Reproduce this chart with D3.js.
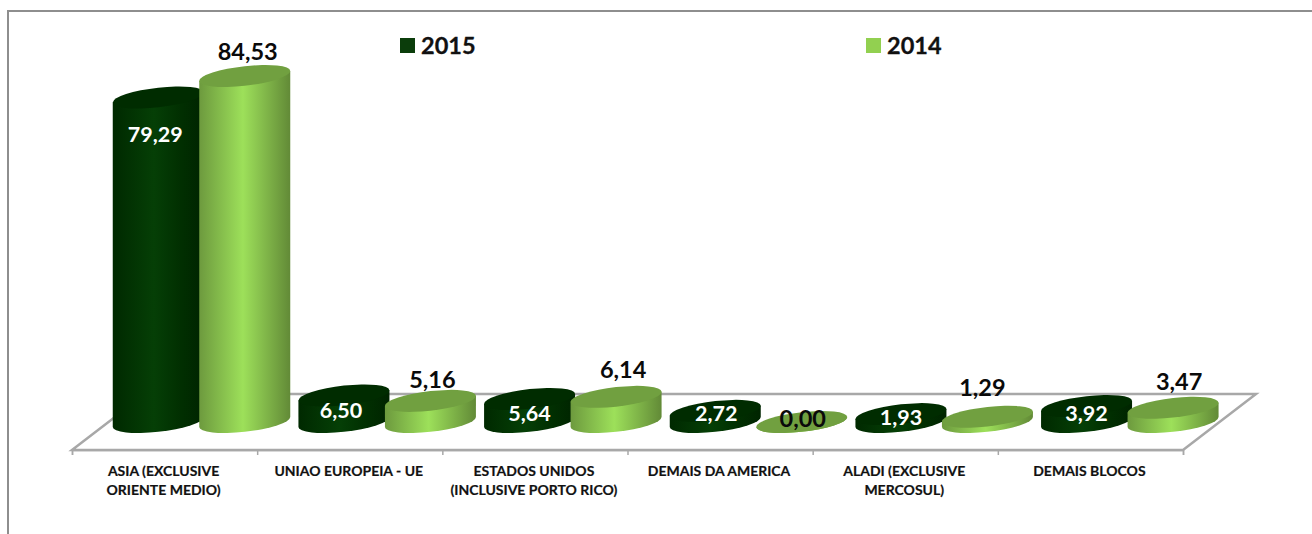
<!DOCTYPE html>
<html>
<head>
<meta charset="utf-8">
<script src="https://cdn.jsdelivr.net/npm/d3@7"></script>
<style>
  html, body { margin: 0; padding: 0; background: #fff; }
  svg { display: block; font-family: Lato, "Open Sans", sans-serif; font-weight: 700; }
  .tick-label { font-size: 14px; fill: #111; stroke: #111; stroke-width: 0.2px; }
  .value-label { font-size: 23.5px; }
  .value-label.inside { font-size: 21.5px; }
  .legend-text { font-size: 23.5px; fill: #111; stroke: #111; stroke-width: 0.3px; }
</style>
</head>
<body>
<div class="content"></div>
<script>
const categories = [
  ["ASIA (EXCLUSIVE", "ORIENTE MEDIO)"],
  ["UNIAO EUROPEIA - UE"],
  ["ESTADOS UNIDOS", "(INCLUSIVE PORTO RICO)"],
  ["DEMAIS DA AMERICA"],
  ["ALADI (EXCLUSIVE", "MERCOSUL)"],
  ["DEMAIS BLOCOS"],
];
const seriesNames = ["2015", "2014"];
const values2015 = [79.29, 6.5, 5.64, 2.72, 1.93, 3.92];
const values2014 = [84.53, 5.16, 6.14, 0, 1.29, 3.47];

// label nudges from the top of each cylinder, excel placed these unevenly
const labelDy2015 = [39, 17, 17, 5, 5, 10];
const labelDy2014 = [-22, -19, -25, -1, -27, -24];
const labelDx2015 = [-3, -3, 0, 1, 0, 0];
const labelDx2014 = [3, 2, 7, 1, -5, 6];

const width = 1312;
const height = 534;
const floor = { left: 72, right: 1183, front: 450, back: 394, depth: 73 };
const baseY = 422;
const rx = 45.5;
const ry = 9.8;
const skew = 0.11;

const svg = d3
  .select(".content")
  .append("svg")
  .attr("width", width)
  .attr("height", height);

const defs = svg.append("defs");

const addGradient = (id, stops) => {
  const g = defs.append("linearGradient").attr("id", id);
  stops.forEach(s => g.append("stop").attr("offset", s[0]).attr("stop-color", s[1]));
};
addGradient("side-2015", [[0, "#002900"], [0.45, "#053f06"], [0.75, "#012f01"], [1, "#002400"]]);
addGradient("side-2014", [[0, "#6d9a3e"], [0.48, "#9de05a"], [1, "#628a37"]]);

const topColor = { 2015: "#002c00", 2014: "#71a040" };

//--> Frame
svg
  .append("path")
  .attr("d", `M8,${height}V11H${width}`)
  .attr("fill", "none")
  .attr("stroke", "#8e8e8e")
  .attr("stroke-width", 2);

//--> Scales
const xBand = d3
  .scaleBand()
  .domain(d3.range(categories.length))
  .range([floor.left, floor.right]);

// the cylinders sit on the sheared floor so they step a bit wider than the ticks
const xBars = d3
  .scaleBand()
  .domain(d3.range(categories.length))
  .range([72, 1186]);

const xSeries = d3
  .scaleBand()
  .domain(seriesNames)
  .range([43, 216]);

const yScale = d3.scaleLinear().domain([0, 90]).range([baseY, baseY - 368.4]);

//--> Floor
svg
  .append("path")
  .attr("d", `M${floor.left},${floor.front}L${floor.left + floor.depth},${floor.back}H${floor.right + floor.depth}L${floor.right},${floor.front}Z`)
  .attr("fill", "#fff")
  .attr("stroke", "#a8a8a8")
  .attr("stroke-width", 2.5);

//--> X axis, only the tick marks and the line
const tickScale = d3
  .scaleLinear()
  .domain([0, categories.length])
  .range([floor.left, floor.right]);

const xAxis = svg
  .append("g")
  .attr("transform", `translate(0, ${floor.front})`)
  .call(d3.axisBottom(tickScale).ticks(categories.length).tickSize(5).tickFormat(""));
xAxis.selectAll("path, line").attr("stroke", "#a8a8a8").attr("stroke-width", 1.5);

//--> Category labels
const labels = svg
  .selectAll(".cat")
  .data(categories)
  .enter()
  .append("text")
  .attr("class", "tick-label")
  .attr("text-anchor", "middle");

labels
  .selectAll("tspan")
  .data((d, i) => d.map(line => ({ line, i })))
  .enter()
  .append("tspan")
  .attr("x", d => xBand(d.i) + xBand.bandwidth() / 2 - 1)
  .attr("y", (d, j) => 476 + j * 19)
  .text(d => d.line);

//--> Cylinders
const rows = [];
categories.forEach((c, i) => {
  rows.push({ i, name: "2015", value: values2015[i], dx: labelDx2015[i], dy: labelDy2015[i] });
  rows.push({ i, name: "2014", value: values2014[i], dx: labelDx2014[i], dy: labelDy2014[i] });
});

const cx = d => xBars(d.i) + xSeries(d.name) + xSeries.bandwidth() / 2;

const cylinders = svg
  .selectAll(".cylinder")
  .data(rows)
  .enter()
  .append("g")
  .attr("class", "cylinder")
  // a shear keeps the sides vertical while tilting the ellipses
  .attr("transform", d => `matrix(1,${-skew},0,1,${cx(d)},0)`);

cylinders
  .append("path")
  .attr("d", d => {
    const top = yScale(d.value);
    return `M${-rx},${top}V${baseY}A${rx},${ry} 0 0 0 ${rx},${baseY}V${top}Z`;
  })
  .attr("fill", d => `url(#side-${d.name})`);

cylinders
  .append("ellipse")
  .attr("cy", d => yScale(d.value))
  .attr("rx", rx)
  .attr("ry", ry)
  .attr("fill", d => topColor[d.name]);

//--> Value labels
svg
  .selectAll(".value-label")
  .data(rows)
  .enter()
  .append("text")
  .attr("class", d => (d.name === "2015" ? "value-label inside" : "value-label"))
  .attr("text-anchor", "middle")
  .attr("dominant-baseline", "middle")
  .attr("x", d => cx(d) + d.dx)
  .attr("y", d => yScale(d.value) + d.dy)
  .attr("fill", d => (d.name === "2015" ? "#fff" : "#0a0a0a"))
  .text(d => d3.format(".2f")(d.value).replace(".", ","));

//--> Legend
const legendX = d3.scaleOrdinal().domain(seriesNames).range([400, 866]);
const legend = svg
  .selectAll(".legend")
  .data(seriesNames)
  .enter()
  .append("g")
  .attr("transform", d => `translate(${legendX(d)}, 38)`);

legend
  .append("rect")
  .attr("width", 15)
  .attr("height", 15)
  .attr("fill", d => (d === "2015" ? "#0b3d0b" : "#92d050"));

legend
  .append("text")
  .attr("class", "legend-text")
  .attr("x", 21)
  .attr("y", 16)
  .text(d => d);
</script>
</body>
</html>
